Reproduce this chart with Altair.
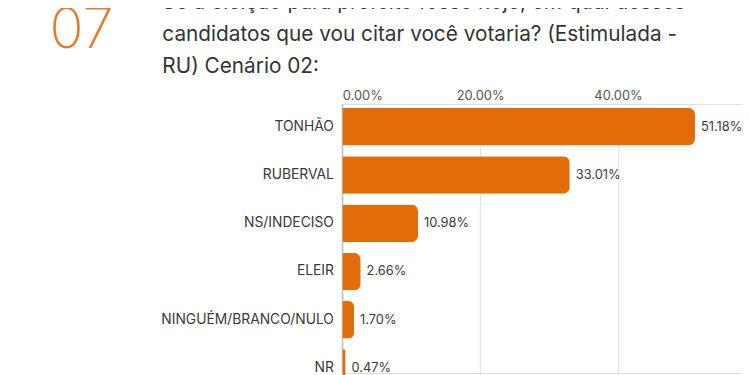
import altair as alt
import pandas as pd

categories = ["TONHÃO", "RUBERVAL", "NS/INDECISO", "ELEIR", "NINGUÉM/BRANCO/NULO", "NR"]
values = [51.18, 33.01, 10.98, 2.66, 1.70, 0.47]
value_labels = ["51.18%", "33.01%", "10.98%", "2.66%", "1.70%", "0.47%"]
tick_values = [0, 20, 40]
number_text = "07"
title_lines = [
    "Se a eleição para prefeito fosse hoje, em qual desses",
    "candidatos que vou citar você votaria? (Estimulada -",
    "RU) Cenário 02:",
]

ORANGE = "#E36C0A"
TEXT = "#333333"
FONT = "Inter"

df = pd.DataFrame({"cat": categories, "val": values, "lbl": value_labels})

y_enc = alt.Y(
    "cat:N",
    sort=categories,
    scale=alt.Scale(range=[4, 286], paddingInner=0.221, paddingOuter=0),
    axis=alt.Axis(
        title=None, ticks=False, domain=False, labelPadding=9,
        labelFontSize=14, labelColor="#3a3a3a", labelFont=FONT,
    ),
)
x_scale = alt.Scale(domain=[0, 58], nice=False)

base = alt.Chart(df)

bars = base.mark_bar(color=ORANGE, cornerRadiusEnd=7).encode(
    x=alt.X(
        "val:Q",
        scale=x_scale,
        axis=alt.Axis(
            orient="top", title=None, values=tick_values, ticks=False, domain=False,
            labelExpr="format(datum.value, '.2f') + '%'", labelPadding=2,
            labelFontSize=13, labelColor="#555555", labelFont=FONT,
            gridColor="#dddddd", gridWidth=1,
        ),
    ),
    y=y_enc,
)

zero = alt.Chart(pd.DataFrame({"z": [0]})).mark_rule(color="#bbbbbb", strokeWidth=1.2).encode(
    x=alt.X("z:Q", scale=x_scale)
)

labels = base.mark_text(align="left", baseline="middle", dx=6, fontSize=13, color="#3a3a3a", font=FONT).encode(
    x=alt.X("val:Q", scale=x_scale),
    y=y_enc,
    text="lbl:N",
)

num = alt.Chart(pd.DataFrame({"t": [number_text]})).mark_text(
    align="left", baseline="alphabetic", fontSize=57, fontWeight=200, color="#E8792A", font=FONT
).encode(text="t:N", x=alt.value(-296), y=alt.value(-57))

title_layers = []
for i, line in enumerate(title_lines):
    title_layers.append(
        alt.Chart(pd.DataFrame({"t": [line]})).mark_text(
            align="left", baseline="alphabetic", fontSize=21, color=TEXT, font=FONT
        ).encode(text="t:N", x=alt.value(-182), y=alt.value(-96 + 32.4 * i))
    )

chart = alt.layer(zero, bars, labels, num, *title_layers).properties(
    width=404,
    height=272,
    autosize=alt.AutoSizeParams(type="none"),
    padding={"left": 338, "top": 95, "right": 0, "bottom": 0},
).configure_view(stroke=None).configure(background="white")

chart.save("out.html", embed_options={"renderer": "svg", "actions": False})
